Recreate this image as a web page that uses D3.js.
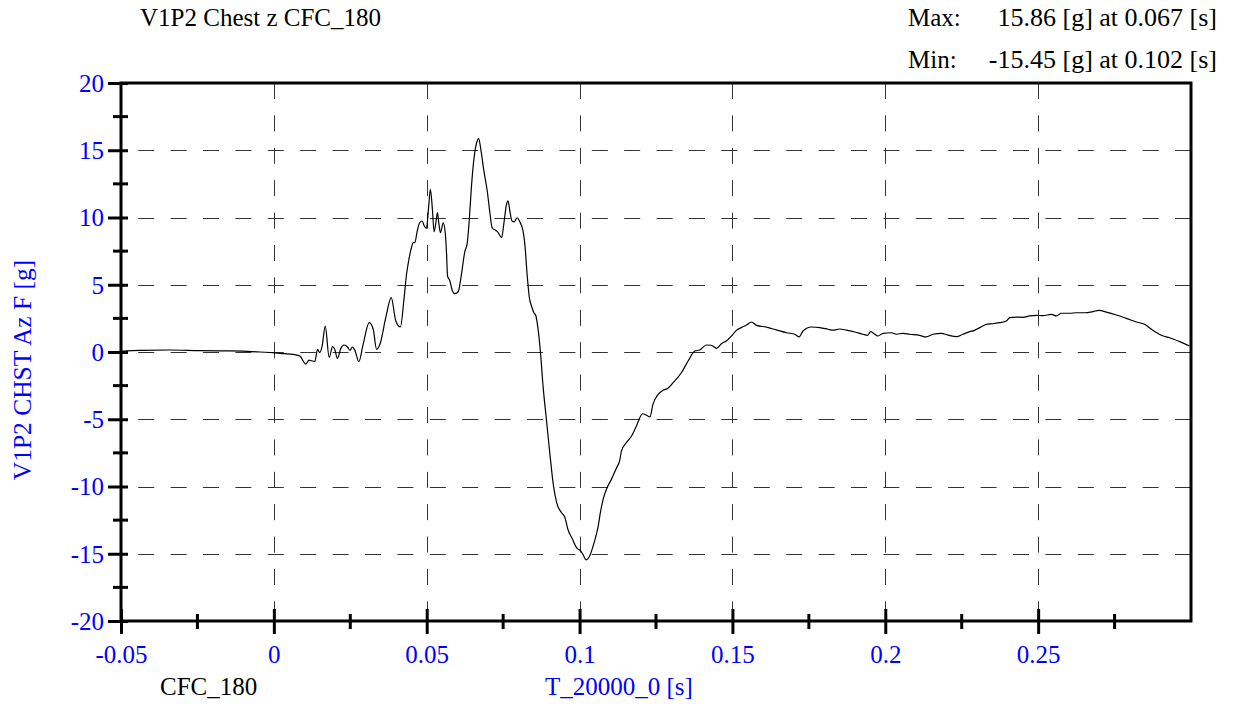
<!DOCTYPE html>
<html>
<head>
<meta charset="utf-8">
<script src="https://cdn.jsdelivr.net/npm/d3@7"></script>
<style>
  html, body { margin: 0; padding: 0; background: #ffffff; }
  svg { display: block; }
  text { font-family: "Liberation Serif", "Times New Roman", serif; }
</style>
</head>
<body>
<svg id="chart" width="1233" height="704"></svg>
<script>
// ---- data ----
const titleText = "V1P2 Chest z CFC_180";
const maxLabel = "15.86 [g] at 0.067 [s]";
const minLabel = "-15.45 [g] at 0.102 [s]";
const xAxisTitle = "T_20000_0 [s]";
const yAxisTitle = "V1P2 CHST Az F [g]";
const filterLabel = "CFC_180";

const xTicks = [-0.05, 0, 0.05, 0.1, 0.15, 0.2, 0.25];
const xTickLabels = ["-0.05", "0", "0.05", "0.1", "0.15", "0.2", "0.25"];
const xMinorTicks = [-0.025, 0.025, 0.075, 0.125, 0.175, 0.225, 0.275];
const yTicks = [-20, -15, -10, -5, 0, 5, 10, 15, 20];
const yTickLabels = ["-20", "-15", "-10", "-5", "0", "5", "10", "15", "20"];
const yMinorTicks = [-17.5, -12.5, -7.5, -2.5, 2.5, 7.5, 12.5, 17.5];
const xGrid = [0, 0.05, 0.1, 0.15, 0.2, 0.25];
const yGrid = [-15, -10, -5, 0, 5, 10, 15];

const time = [
  -0.05, -0.0438, -0.034, -0.0242, -0.0144, -0.0046, 0.002, 0.0069, 0.0085, 0.0105,
  0.0115, 0.0123, 0.0134, 0.0143, 0.015, 0.0158, 0.0168, 0.0181, 0.0192, 0.0199,
  0.0208, 0.0219, 0.023, 0.0241, 0.0249, 0.0257, 0.0265, 0.0278, 0.0292, 0.0312,
  0.0325, 0.0336, 0.0347, 0.0366, 0.0384, 0.0399, 0.0414, 0.0425, 0.0434, 0.0439,
  0.045, 0.0456, 0.0461, 0.0469, 0.0477, 0.0485, 0.0492, 0.0499, 0.0507, 0.0512,
  0.0519, 0.0524, 0.053, 0.0535, 0.054, 0.0545, 0.0554, 0.056, 0.0565, 0.0568,
  0.0576, 0.0584, 0.0592, 0.0603, 0.0612, 0.0625, 0.0632, 0.0639, 0.0646, 0.0655,
  0.0666, 0.067, 0.0677, 0.0687, 0.0698, 0.0706, 0.0714, 0.0725, 0.0733, 0.0745,
  0.0752, 0.0761, 0.0766, 0.0772, 0.0779, 0.0786, 0.0796, 0.0804, 0.0815, 0.0821,
  0.0829, 0.0836, 0.0843, 0.0851, 0.0857, 0.0865, 0.0872, 0.0881, 0.0892, 0.0903,
  0.0914, 0.0925, 0.0941, 0.0952, 0.0962, 0.0977, 0.099, 0.1004, 0.1011, 0.1022,
  0.1033, 0.1046, 0.106, 0.1069, 0.1077, 0.109, 0.1104, 0.1121, 0.1131, 0.1137,
  0.1153, 0.117, 0.1186, 0.1206, 0.1219, 0.123, 0.124, 0.1257, 0.1273, 0.1289,
  0.1306, 0.1333, 0.1355, 0.1377, 0.1393, 0.1415, 0.1431, 0.1448, 0.1464, 0.148,
  0.1497, 0.1513, 0.1529, 0.1546, 0.1562, 0.1579, 0.1611, 0.1644, 0.1677, 0.1704,
  0.1718, 0.1731, 0.1758, 0.1786, 0.1813, 0.1829, 0.1851, 0.1873, 0.19, 0.1927,
  0.1942, 0.1952, 0.1966, 0.1976, 0.1993, 0.202, 0.2036, 0.2058, 0.208, 0.2112,
  0.2134, 0.2156, 0.2183, 0.2205, 0.2233, 0.2254, 0.2276, 0.2292, 0.2309, 0.2331,
  0.2352, 0.2374, 0.2396, 0.2407, 0.2429, 0.245, 0.2472, 0.2494, 0.2516, 0.2543,
  0.256, 0.2576, 0.2603, 0.2625, 0.2652, 0.2679, 0.2699, 0.2723, 0.2756, 0.2788,
  0.2821, 0.2848, 0.2875, 0.2903, 0.293, 0.2963, 0.2995
];
const accel = [
  0.05, 0.12, 0.15, 0.1, 0.08, 0.0, -0.1, -0.2, -0.3, -0.9,
  -0.6, -0.65, -0.7, 0.2, -0.05, 0.45, 1.93, -0.4, 0.4, 0.2,
  -0.47, 0.27, 0.52, 0.37, 0.12, 0.37, 0.12, -0.72, 0.57, 2.18,
  1.69, 0.2, 0.57, 2.55, 4.04, 2.3, 1.86, 3.79, 5.78, 6.52,
  7.75, 8.13, 8.13, 9.0, 9.61, 9.74, 9.37, 9.19, 10.98, 12.1,
  10.48, 8.94, 9.61, 10.36, 9.49, 8.87, 9.61, 9.0, 7.26, 5.65,
  5.28, 4.54, 4.34, 4.48, 5.53, 7.5, 8.0, 9.74, 12.2, 14.45,
  15.74, 15.86, 15.07, 13.46, 11.97, 10.48, 9.24, 9.05, 8.9, 8.5,
  9.49, 10.98, 11.23, 10.48, 9.74, 9.67, 9.98, 9.7, 9.0, 8.0,
  5.6, 4.0, 3.4, 2.9, 2.7, 1.56, 0.0, -2.65, -5.13, -7.6,
  -9.84, -11.2, -11.95, -12.3, -13.2, -13.93, -14.55, -14.8, -15.05, -15.45,
  -15.17, -14.3, -13.06, -11.82, -10.95, -10.09, -9.47, -8.6, -8.1, -7.36,
  -6.74, -6.25, -5.5, -4.59, -4.7, -4.83, -3.89, -3.15, -2.85, -2.7,
  -2.28, -1.54, -0.67, 0.07, 0.15, 0.52, 0.5, 0.27, 0.62, 0.82,
  1.19, 1.61, 1.81, 2.0, 2.23, 1.98, 1.85, 1.64, 1.43, 1.32,
  1.12, 1.56, 1.86, 1.81, 1.69, 1.62, 1.71, 1.62, 1.49, 1.32,
  1.24, 1.51, 1.32, 1.19, 1.39, 1.43, 1.32, 1.39, 1.32, 1.24,
  1.12, 1.32, 1.39, 1.26, 1.14, 1.32, 1.51, 1.61, 1.81, 2.06,
  2.1, 2.18, 2.3, 2.55, 2.6, 2.58, 2.68, 2.73, 2.7, 2.8,
  2.68, 2.88, 2.88, 2.92, 2.92, 3.0, 3.1, 2.97, 2.75, 2.5,
  2.23, 2.06, 1.61, 1.24, 1.06, 0.77, 0.45
];

// ---- layout ----
const svg = d3.select("#chart");
const L = 121, R = 1191, T = 83, B = 621;
const blue = "#0000ff";
const fs = 25;

const x = d3.scaleLinear().domain([-0.05, 0.3]).range([L, R]);
const y = d3.scaleLinear().domain([-20, 20]).range([B, T]);

// clip
svg.append("defs").append("clipPath").attr("id", "plotClip")
  .append("rect").attr("x", L).attr("y", T).attr("width", R - L).attr("height", B - T);

// grid
const grid = svg.append("g");
grid.selectAll("line.hg").data(yGrid).join("line")
  .attr("x1", R).attr("x2", L)
  .attr("y1", d => Math.round(y(d)) + 0.5).attr("y2", d => Math.round(y(d)) + 0.5)
  .attr("stroke", "#333").attr("stroke-width", 1).attr("stroke-dasharray", "16,16.4");
grid.selectAll("line.vg").data(xGrid).join("line")
  .attr("y1", T).attr("y2", B)
  .attr("x1", d => Math.round(x(d)) + 0.5).attr("x2", d => Math.round(x(d)) + 0.5)
  .attr("stroke", "#333").attr("stroke-width", 1).attr("stroke-dasharray", "16,16.4");

// curve
const pts = time.map((t, i) => [t, accel[i]]);
const line = d3.line().x(d => x(d[0])).y(d => y(d[1])).curve(d3.curveMonotoneX);
svg.append("path").datum(pts)
  .attr("clip-path", "url(#plotClip)")
  .attr("d", line).attr("fill", "none").attr("stroke", "#000").attr("stroke-width", 1.2);

// frame
svg.append("rect").attr("x", L).attr("y", T).attr("width", R - L).attr("height", B - T)
  .attr("fill", "none").attr("stroke", "#000").attr("stroke-width", 3);

// left axis
const yAxis = d3.axisLeft(y).tickValues(yTicks).tickSize(13).tickPadding(4)
  .tickFormat((d, i) => yTickLabels[i]);
const gy = svg.append("g").attr("transform", `translate(${L},0)`).call(yAxis);
gy.select(".domain").remove();
gy.selectAll(".tick line").attr("x2", -13).attr("x1", 7).attr("stroke", "#000").attr("stroke-width", 3);
gy.selectAll(".tick text").attr("fill", blue).style("font-size", fs + "px")
  .style("font-family", "'Liberation Serif','Times New Roman',serif").attr("x", -17).attr("dy", "0.33em");
svg.append("g").selectAll("line").data(yMinorTicks).join("line")
  .attr("x1", L - 8).attr("x2", L + 7).attr("y1", d => y(d)).attr("y2", d => y(d))
  .attr("stroke", "#000").attr("stroke-width", 3);

// bottom axis
const xAxis = d3.axisBottom(x).tickValues(xTicks).tickSize(13)
  .tickFormat((d, i) => xTickLabels[i]);
const gx = svg.append("g").attr("transform", `translate(0,${B})`).call(xAxis);
gx.select(".domain").remove();
gx.selectAll(".tick line").attr("y1", -12).attr("y2", 13).attr("stroke", "#000").attr("stroke-width", 3);
gx.selectAll(".tick text").attr("fill", blue).style("font-size", fs + "px")
  .style("font-family", "'Liberation Serif','Times New Roman',serif").attr("y", 42).attr("dy", 0);
svg.append("g").selectAll("line").data(xMinorTicks).join("line")
  .attr("y1", B - 7).attr("y2", B + 8).attr("x1", d => x(d)).attr("x2", d => x(d))
  .attr("stroke", "#000").attr("stroke-width", 3);

// texts
svg.append("text").attr("x", 140).attr("y", 26).attr("font-size", fs).attr("fill", "#000").text(titleText);
svg.append("text").attr("x", 908).attr("y", 26).attr("font-size", fs).attr("fill", "#000").text("Max:");
svg.append("text").attr("x", 1217).attr("y", 26).attr("font-size", 26).attr("text-anchor", "end").attr("fill", "#000").text(maxLabel);
svg.append("text").attr("x", 908).attr("y", 68).attr("font-size", fs).attr("fill", "#000").text("Min:");
svg.append("text").attr("x", 1217).attr("y", 68).attr("font-size", 26).attr("text-anchor", "end").attr("fill", "#000").text(minLabel);
svg.append("text").attr("x", 160).attr("y", 695).attr("font-size", fs).attr("fill", "#000").text(filterLabel);
svg.append("text").attr("x", 545).attr("y", 695).attr("font-size", fs).attr("fill", blue).text(xAxisTitle);
svg.append("text").attr("transform", "translate(31,370) rotate(-90)").attr("text-anchor", "middle")
  .attr("font-size", 25.5).attr("fill", blue).text(yAxisTitle);
</script>
</body>
</html>
